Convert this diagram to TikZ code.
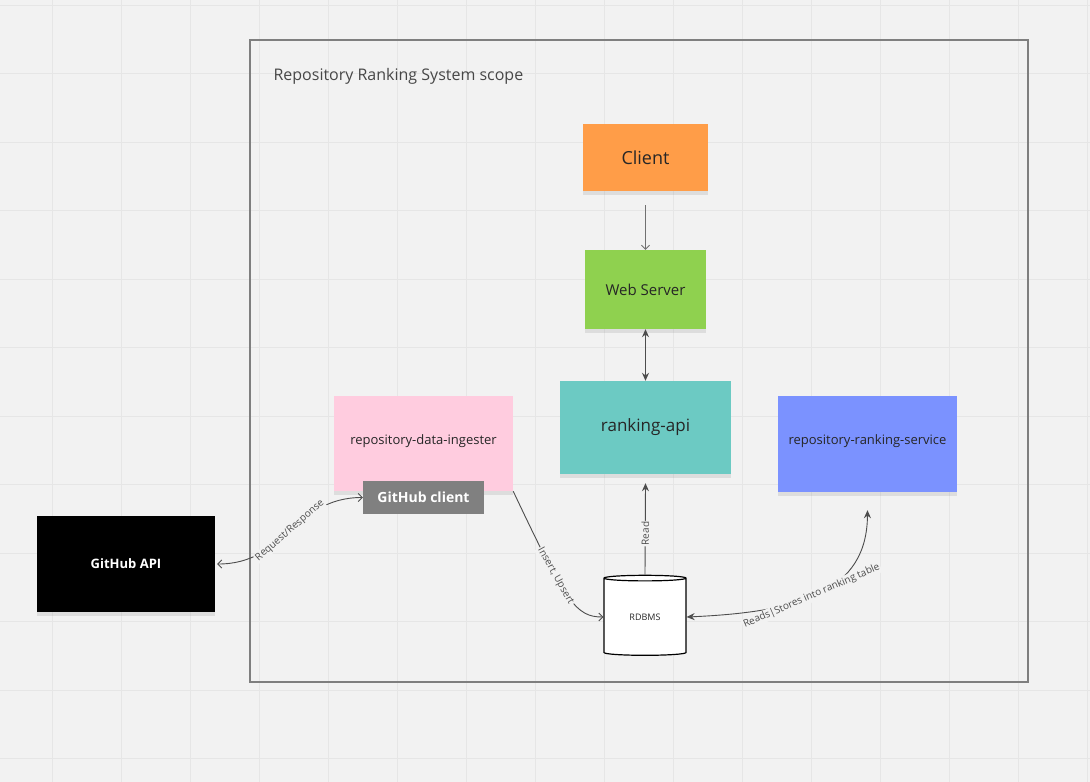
\documentclass[tikz,border=0pt]{standalone}
\usepackage{fontspec}
\setmainfont{Open Sans}
\usetikzlibrary{positioning, arrows.meta, shapes.geometric, shadows}

\definecolor{canvas}{HTML}{F2F2F2}
\definecolor{gridline}{HTML}{E6E6E6}
\definecolor{scopegray}{HTML}{7F7F7F}
\definecolor{clientorange}{HTML}{FF9D48}
\definecolor{servergreen}{HTML}{8FD14F}
\definecolor{apiteal}{HTML}{6CCAC3}
\definecolor{ingestpink}{HTML}{FFCCDF}
\definecolor{rankblue}{HTML}{7B92FF}
\definecolor{clientgray}{HTML}{808080}
\definecolor{inktext}{HTML}{262626}
\definecolor{linkgray}{HTML}{4D4D4D}

\begin{document}
\begin{tikzpicture}[
    x=1pt, y=-1pt,
    note/.style={rectangle, draw=none, inner sep=0pt, text=inktext, align=center,
                 drop shadow={shadow xshift=0pt, shadow yshift=-4pt, opacity=0.18}},
    link/.style={draw=linkgray, line width=0.9pt},
    barb/.tip={Straight Barb[length=4pt, width=8pt]},
    fat/.tip={Stealth[length=8pt, width=7pt]},
    tag/.style={font=\fontsize{10}{11}\selectfont, text=linkgray, fill=canvas,
                inner sep=1pt, sloped}
]

    % Canvas and grid
    \fill[canvas] (0,0) rectangle (1090,782);
    \useasboundingbox (0,0) rectangle (1090,782);
    \foreach \gx in {52,121,...,1090} \draw[gridline, line width=0.8pt] (\gx,0) -- (\gx,782);
    \foreach \gy in {5,73.5,...,782} \draw[gridline, line width=0.8pt] (0,\gy) -- (1090,\gy);

    % System scope
    \draw[scopegray, line width=1.3pt] (250,40) rectangle (1028,682);
    \node[anchor=west, text=inktext!85, font=\fontsize{16}{18}\selectfont] (scope) at (270,76) {Repository Ranking System scope};

    % Components
    \node[note, fill=clientorange, minimum width=125pt, minimum height=67pt,
          font=\fontsize{18}{20}\selectfont] (client) at (645.5,157.5) {Client};
    \node[note, fill=servergreen, minimum width=121pt, minimum height=79pt,
          font=\fontsize{15}{17}\selectfont] (server) at (645.5,289.5) {Web Server};
    \node[note, fill=apiteal, minimum width=171pt, minimum height=93pt,
          font=\fontsize{17}{19}\selectfont] (api) at (645.5,427.5) {ranking-api};
    \node[note, fill=ingestpink, minimum width=179pt, minimum height=95pt,
          font=\fontsize{13}{15}\selectfont] (ingester) at (423.5,443.5) {};
    \node[text=inktext, font=\fontsize{13}{15}\selectfont] (ingestlabel) at (423.5,441) {repository-data-ingester};
    \node[note, fill=rankblue, minimum width=179pt, minimum height=96pt,
          font=\fontsize{13}{15}\selectfont] (ranker) at (867.5,444) {};
    \node[text=inktext, font=\fontsize{13}{15}\selectfont] (ranklabel) at (867.5,441) {repository-ranking-service};
    \node[rectangle, fill=clientgray, text=white, minimum width=121pt, minimum height=33pt,
          inner sep=0pt, font=\fontsize{14}{16}\selectfont\bfseries] (ghclient) at (423.5,497.5) {GitHub client};
    \node[note, fill=black, text=white, minimum width=178pt, minimum height=96pt,
          font=\fontsize{13}{15}\selectfont\bfseries] (ghapi) at (126,564) {GitHub API};

    % Database
    \node[cylinder, shape border rotate=90, draw=black, line width=1.2pt, fill=white,
          minimum width=82pt, minimum height=80pt, aspect=0.18, inner sep=0pt,
          font=\fontsize{9}{10}\selectfont, text=inktext] (db) at (645,617) {\raisebox{-6pt}{RDBMS}};

    % Connectors
    \draw[link, -barb, draw=linkgray!80] ([yshift=-14pt]client.south) -- (server.north);
    \draw[link, fat-fat] (server.south) -- (api.north);
    \draw[link, -fat] (db.north) -- node[tag, pos=0.45] {Read} ([yshift=-9pt]api.south);
    \draw[link, -barb] (ingester.south east) .. controls (566,603) and (576,617) .. (db.west)
        node[tag, pos=0.35] {Insert, Upsert};
    \draw[link, barb-barb] (ghclient.west) to[out=180, in=0, looseness=1.1]
        node[tag, pos=0.5] {Request/Response} ([xshift=2pt]ghapi.east);
    \draw[link, fat-fat] (db.east) .. controls (800,612) and (867,592) .. ([yshift=-18pt]ranker.south)
        node[tag, pos=0.46] {Reads|Stores into ranking table};

\end{tikzpicture}
\end{document}
